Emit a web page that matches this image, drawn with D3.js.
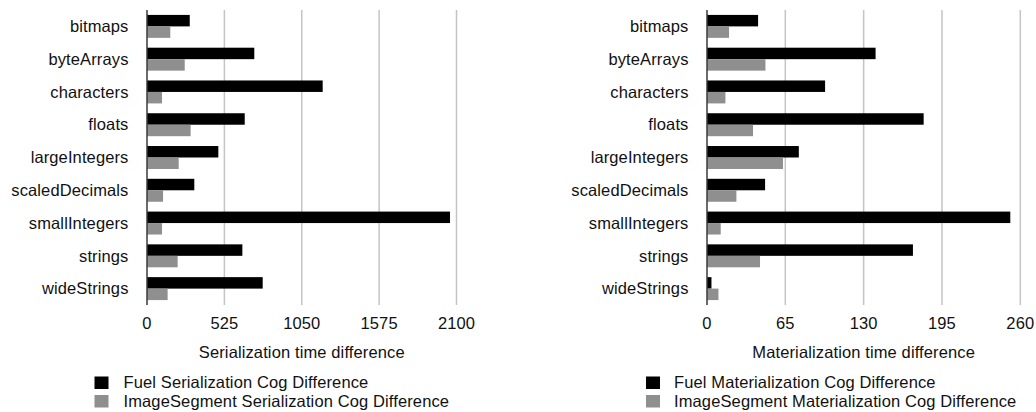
<!DOCTYPE html>
<html>
<head>
<meta charset="utf-8">
<script src="https://cdn.jsdelivr.net/npm/d3@7"></script>
<style>
  html, body { margin: 0; padding: 0; background: #fff; }
  svg { display: block; }
  text { font-family: "Liberation Sans", Arial, Helvetica, sans-serif; fill: #111; letter-spacing: 0.12px; }
</style>
</head>
<body>
<svg id="chart" width="1036" height="412"></svg>
<script>
const categories = ["bitmaps", "byteArrays", "characters", "floats", "largeIntegers", "scaledDecimals", "smallIntegers", "strings", "wideStrings"];

const fuelSerialization = [290, 728, 1192, 663, 484, 321, 2056, 647, 785];
const imageSegmentSerialization = [158, 256, 102, 296, 215, 109, 102, 208, 140];
const serializationTicks = [0, 525, 1050, 1575, 2100];

const fuelMaterialization = [42.4, 139.9, 98, 179.8, 76.2, 48.2, 251.7, 170.9, 3.7];
const imageSegmentMaterialization = [18.3, 48.5, 15.3, 38.2, 63.1, 24.4, 11.4, 44, 9.5];
const materializationTicks = [0, 65, 130, 195, 260];

const panels = [
  {
    x0: 147, x1: 456.5, max: 2100, ticks: serializationTicks,
    fuel: fuelSerialization, seg: imageSegmentSerialization,
    title: "Serialization time difference",
    legend: ["Fuel Serialization Cog Difference", "ImageSegment Serialization Cog Difference"],
    legendX: 94.5, legendTextX: 123.5
  },
  {
    x0: 707, x1: 1020.3, max: 260, ticks: materializationTicks,
    fuel: fuelMaterialization, seg: imageSegmentMaterialization,
    title: "Materialization time difference",
    legend: ["Fuel Materialization Cog Difference", "ImageSegment Materialization Cog Difference"],
    legendX: 646, legendTextX: 674
  }
];

const svg = d3.select("#chart");
const plotTop = 10, plotBottom = 305;
const fontSize = 16.5;

panels.forEach(p => {
  const g = svg.append("g");
  const x = d3.scaleLinear().domain([0, p.max]).range([p.x0, p.x1]);
  const y = d3.scaleBand().domain(categories).range([plotTop, plotBottom]).paddingInner(0.3).paddingOuter(0.15);
  const half = y.bandwidth() / 2;

  // gridlines
  g.selectAll("line.grid").data(p.ticks.filter(t => t > 0)).enter().append("line")
    .attr("x1", d => x(d)).attr("x2", d => x(d))
    .attr("y1", plotTop).attr("y2", plotBottom)
    .attr("stroke", "#c4c4c4").attr("stroke-width", 1.5);

  // bars
  g.selectAll("rect.fuel").data(categories).enter().append("rect")
    .attr("x", x(0)).attr("y", d => y(d))
    .attr("width", (d, i) => x(p.fuel[i]) - x(0))
    .attr("height", half).attr("fill", "#000");
  g.selectAll("rect.seg").data(categories).enter().append("rect")
    .attr("x", x(0)).attr("y", d => y(d) + half)
    .attr("width", (d, i) => x(p.seg[i]) - x(0))
    .attr("height", half).attr("fill", "#8f8f8f");

  // axis line
  g.append("line").attr("x1", x(0)).attr("x2", x(0)).attr("y1", plotTop).attr("y2", plotBottom)
    .attr("stroke", "#3a3a3a").attr("stroke-width", 1.5);

  // category labels
  g.selectAll("text.cat").data(categories).enter().append("text")
    .attr("x", x(0) - 18.5).attr("y", d => y(d) + y.bandwidth() / 2)
    .attr("dy", "0.35em").attr("text-anchor", "end")
    .style("font-size", fontSize + "px").text(d => d);

  // tick labels
  g.selectAll("text.tick").data(p.ticks).enter().append("text")
    .attr("x", d => x(d)).attr("y", 329)
    .attr("text-anchor", "middle")
    .style("font-size", fontSize + "px").text(d => d);

  // axis title
  g.append("text").attr("x", (p.x0 + p.x1) / 2).attr("y", 358)
    .attr("text-anchor", "middle").style("font-size", fontSize + "px").text(p.title);

  // legend
  const colors = ["#000", "#8f8f8f"];
  p.legend.forEach((label, i) => {
    g.append("rect").attr("x", p.legendX).attr("y", 376.5 + i * 18.5)
      .attr("width", 14).attr("height", 12.5).attr("fill", colors[i]);
    g.append("text").attr("x", p.legendTextX).attr("y", 388 + i * 18.5)
      .style("font-size", fontSize + "px").text(label);
  });
});
</script>
</body>
</html>
